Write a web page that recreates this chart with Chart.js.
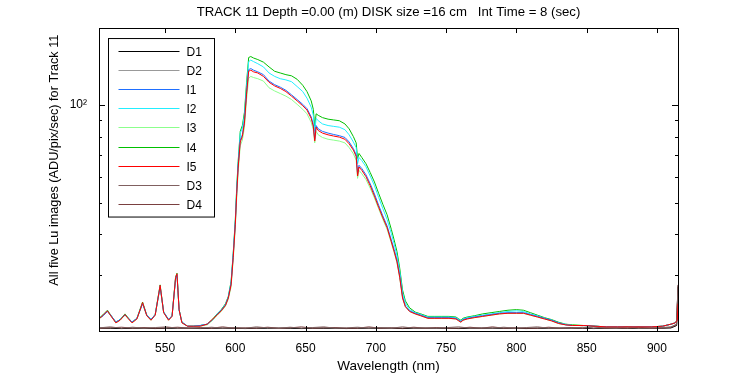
<!DOCTYPE html>
<html>
<head>
<meta charset="utf-8">
<script src="https://cdn.jsdelivr.net/npm/chart.js@4/dist/chart.umd.min.js"></script>
<style>
  html, body { margin: 0; padding: 0; background: #fff; }
  canvas { display: block; }
</style>
</head>
<body>
<canvas id="c" width="750" height="375"></canvas>
<script>
// wavelengths (nm) for the five Lu images
const wave = [503,506,509,512,515,518,521.5,524,526.5,530,
  534,537,540,543,546.5,549,552.5,555,557.5,558.5,
  560,562,566,570,575,580,584,587,590,593,
  595,597,598.5,600,601,602,603.5,605,606.5,608,
  609.5,611,613,616,620,624,628,632,636,640,
  644,648,651,654,655.5,656.5,657.5,659,662,666,
  670,674,678,681,684,686,687,688,690,693,
  696,699,702,705,708,711,713,715,717,719,
  721,724,728,732,737,742,747,752,757,759,
  760.5,762,765,770,776,782,788,794,800,805,
  810,815,820,825,830,835,840,848,856,864,
  872,880,888,896,904,910,913,914.5,915];

const i1 = [22.1,22.5,23.2,22.4,21.5,21.9,22.6,22.1,21.5,22.1,
  24.5,22.6,21.9,22.7,27.6,23.1,21.9,22.5,29.2,30.0,
  23.4,21.5,20.9,20.9,21.0,21.2,21.9,22.7,23.4,24.3,
  25.6,28.3,34.5,43.5,54.0,65.0,78.0,81.0,89.5,110.0,
  128.5,129.5,128.0,126.5,124.0,118.5,115.5,113.5,111.0,107.5,
  104.0,100.5,97.5,92.0,87.0,78.5,86.5,84.5,83.0,82.0,
  81.2,80.5,79.5,77.0,73.5,70.3,61.5,65.3,63.8,61.0,
  57.3,53.3,49.2,45.6,42.5,38.5,36.0,33.4,29.9,25.8,
  24.1,23.3,22.9,22.6,22.2,22.2,22.2,22.2,22.1,21.8,
  21.6,21.9,22.1,22.3,22.5,22.7,22.9,23.0,23.0,23.0,
  22.7,22.4,22.1,21.8,21.4,21.1,21.0,21.0,20.9,20.8,
  20.8,20.8,20.8,20.8,20.9,21.2,21.4,21.8,24.3];

const i2 = [22.1,22.6,23.3,22.4,21.5,21.9,22.7,22.1,21.5,22.1,
  24.6,22.6,21.9,22.7,27.8,23.1,21.9,22.5,29.4,30.2,
  23.5,21.5,20.9,20.9,21.0,21.2,21.9,22.7,23.4,24.4,
  25.7,28.5,34.8,44.0,55.0,66.0,82.0,85.0,93.0,114.0,
  136.0,137.5,136.0,134.0,131.0,125.5,122.5,120.5,119.5,118.0,
  114.0,110.0,105.0,98.5,93.0,83.0,91.0,89.5,87.5,86.5,
  86.0,85.5,84.0,81.0,77.0,74.0,66.0,69.0,67.5,64.6,
  60.5,56.5,52.0,48.0,44.5,40.3,37.5,34.5,30.8,26.5,
  24.6,23.5,23.0,22.7,22.3,22.3,22.3,22.3,22.2,21.9,
  21.7,22.0,22.2,22.4,22.6,22.8,23.0,23.2,23.3,23.2,
  22.8,22.5,22.1,21.8,21.4,21.2,21.0,21.0,20.9,20.8,
  20.8,20.8,20.8,20.8,20.9,21.2,21.4,21.8,24.4];

const i3 = [22.0,22.5,23.2,22.3,21.4,21.8,22.6,22.0,21.4,22.0,
  24.5,22.5,21.8,22.6,27.6,23.0,21.8,22.4,29.2,30.0,
  23.4,21.4,20.9,20.9,20.9,21.1,21.8,22.6,23.2,24.1,
  25.3,27.6,33.5,42.0,52.0,62.0,75.0,78.0,85.5,104.0,
  121.0,122.5,121.5,120.5,118.5,113.0,110.5,108.5,106.5,104.0,
  100.5,97.0,94.0,88.5,84.0,76.5,83.0,81.0,79.5,78.5,
  78.0,77.5,76.5,74.0,70.8,67.7,59.5,63.0,61.5,59.0,
  55.5,51.8,48.0,44.5,41.5,37.7,35.2,32.8,29.4,25.5,
  24.0,23.2,22.8,22.5,22.1,22.1,22.1,22.1,22.0,21.7,
  21.5,21.8,22.0,22.2,22.4,22.6,22.8,22.9,22.9,22.9,
  22.6,22.3,22.0,21.7,21.3,21.1,21.0,21.0,20.9,20.8,
  20.8,20.8,20.8,20.8,20.9,21.2,21.4,21.8,24.2];

const i4 = [22.1,22.7,23.4,22.4,21.5,21.9,22.8,22.1,21.5,22.1,
  24.8,22.6,21.9,22.7,28.0,23.1,21.9,22.5,29.6,30.4,
  23.5,21.5,20.9,20.9,21.0,21.2,22.0,22.8,23.5,24.5,
  25.8,28.7,35.0,44.5,56.0,67.0,83.0,86.5,95.0,117.0,
  140.0,141.0,139.5,138.0,135.5,131.0,127.0,125.5,124.0,123.0,
  120.0,115.0,110.0,103.0,97.0,86.0,94.0,93.0,91.5,90.5,
  90.0,89.5,87.5,84.5,80.0,76.5,68.5,71.0,69.0,66.0,
  62.0,58.0,53.5,49.5,46.0,41.5,38.5,35.5,31.5,27.0,
  25.0,23.8,23.1,22.8,22.4,22.4,22.4,22.4,22.3,22.0,
  21.8,22.1,22.3,22.5,22.8,23.0,23.2,23.4,23.5,23.4,
  23.0,22.6,22.2,21.9,21.5,21.2,21.1,21.0,20.9,20.8,
  20.8,20.8,20.8,20.8,20.9,21.2,21.4,21.9,24.5];

const i5 = [22.0,22.6,23.3,22.3,21.4,21.8,22.7,22.0,21.4,22.0,
  24.7,22.5,21.8,22.6,27.9,23.0,21.8,22.4,29.5,30.3,
  23.5,21.4,20.9,20.9,20.9,21.2,22.0,22.6,23.3,24.2,
  25.5,28.0,34.0,43.0,53.5,64.0,77.0,80.0,88.0,108.0,
  127.0,128.0,126.5,125.5,122.5,117.5,114.5,112.5,110.0,106.5,
  103.0,99.5,96.5,91.0,86.0,77.5,85.5,83.5,82.0,81.0,
  80.3,79.7,78.5,76.0,72.7,69.5,60.5,64.5,63.0,60.2,
  56.5,52.5,48.5,45.0,42.0,38.0,35.5,33.0,29.5,25.5,
  24.0,23.2,22.8,22.5,22.1,22.1,22.1,22.1,22.0,21.7,
  21.5,21.8,22.0,22.2,22.4,22.6,22.8,22.9,22.9,22.9,
  22.6,22.3,22.0,21.7,21.3,21.1,21.0,21.0,20.9,20.8,
  20.8,20.8,20.8,20.8,20.9,21.2,21.4,21.8,24.5];

// wavelengths (nm) for the four dark images
const dWave = [503,511,519,527,535,543,551,559,567,575,
  583,591,599,607,615,623,631,639,647,655,
  663,671,679,687,695,703,711,719,727,735,
  743,751,759,767,775,783,791,799,807,815,
  823,831,839,847,855,863,871,879,887,895,
  903,910,914,915];

const d1 = [20.6,20.6,20.55,20.6,20.6,20.55,20.6,20.6,20.6,20.55,
  20.6,20.6,20.6,20.55,20.6,20.6,20.6,20.6,20.55,20.6,
  20.6,20.6,20.55,20.6,20.6,20.6,20.6,20.55,20.6,20.6,
  20.6,20.6,20.55,20.6,20.6,20.6,20.6,20.6,20.55,20.6,
  20.6,20.6,20.6,20.6,20.55,20.6,20.6,20.6,20.6,20.6,
  20.6,20.65,21.0,27.6];

const d2 = [20.62,20.6,20.6,20.62,20.6,20.6,20.62,20.6,20.6,20.6,
  20.62,20.6,20.6,20.6,20.62,20.6,20.6,20.62,20.6,20.6,
  20.6,20.62,20.6,20.6,20.6,20.62,20.6,20.6,20.62,20.6,
  20.6,20.6,20.62,20.6,20.6,20.62,20.6,20.6,20.6,20.62,
  20.6,20.6,20.62,20.6,20.6,20.6,20.62,20.6,20.6,20.6,
  20.62,20.65,21.0,27.7];

const d3 = [20.65,20.8,20.6,20.75,20.6,20.7,20.8,20.6,20.65,20.6,
  20.75,20.6,20.7,20.6,20.8,20.65,20.6,20.75,20.6,20.7,
  20.8,20.6,20.65,20.75,20.6,20.7,20.6,20.8,20.6,20.65,
  20.6,20.7,20.8,20.6,20.65,20.6,20.75,20.6,20.7,20.8,
  20.6,20.65,20.6,20.75,20.6,20.7,20.6,20.8,20.6,20.65,
  20.7,20.8,21.2,27.9];

const d4 = [20.6,20.65,20.75,20.6,20.7,20.6,20.65,20.75,20.6,20.7,
  20.6,20.8,20.6,20.65,20.6,20.75,20.6,20.65,20.8,20.6,
  20.65,20.7,20.6,20.6,20.8,20.6,20.65,20.6,20.75,20.6,
  20.7,20.6,20.6,20.75,20.6,20.8,20.6,20.65,20.6,20.6,
  20.75,20.6,20.7,20.6,20.8,20.6,20.65,20.6,20.75,20.6,
  20.6,20.75,21.1,28.0];

const seriesNames = ['D1', 'D2', 'I1', 'I2', 'I3', 'I4', 'I5', 'D3', 'D4'];
const seriesColors = ['#000000', '#999999', '#1f6fff', '#22eeff', '#8cff8c', '#00c000', '#ff0000', '#806060', '#7a4040'];
const seriesOrder = [7, 7, 3, 5, 4, 6, 1, 2, 2];
const xTicks = [550, 600, 650, 700, 750, 800, 850, 900];
const yTicks = [30, 40, 50, 60, 70, 80, 90, 100];

const FONT = "'Liberation Sans', Arial, sans-serif";

function pts(xs, ys) {
  return xs.map((x, i) => ({ x: x, y: ys[i] }));
}

const seriesData = [pts(dWave, d1), pts(dWave, d2), pts(wave, i1), pts(wave, i2),
  pts(wave, i3), pts(wave, i4), pts(wave, i5), pts(dWave, d3), pts(dWave, d4)];

// box, inward ticks and legend drawn like the original figure
const figureBits = {
  id: 'figureBits',
  afterDatasetsDraw(chart) {
    const { ctx, chartArea: a, scales } = chart;
    ctx.save();
    ctx.strokeStyle = '#000';
    ctx.lineWidth = 1;
    ctx.beginPath();
    xTicks.forEach(v => {
      const px = Math.round(scales.x.getPixelForValue(v)) + 0.5;
      ctx.moveTo(px, a.bottom); ctx.lineTo(px, a.bottom - 5);
      ctx.moveTo(px, a.top); ctx.lineTo(px, a.top + 5);
    });
    yTicks.forEach(v => {
      const py = Math.round(scales.y.getPixelForValue(v)) + 0.5;
      const len = v === 100 ? 6 : 3;
      ctx.moveTo(a.left, py); ctx.lineTo(a.left + len, py);
      ctx.moveTo(a.right, py); ctx.lineTo(a.right - len, py);
    });
    ctx.stroke();
    ctx.strokeRect(Math.round(a.left) + 0.5, Math.round(a.top) + 0.5,
      Math.round(a.right - a.left), Math.round(a.bottom - a.top));
    ctx.restore();
  },
  afterDraw(chart) {
    const ctx = chart.ctx;
    const a = chart.chartArea;
    const bx = a.left + 9.5, by = a.top + 10.5, bw = 106, bh = 178.5;
    ctx.save();
    ctx.fillStyle = '#fff';
    ctx.fillRect(bx, by, bw, bh);
    ctx.strokeStyle = '#000';
    ctx.lineWidth = 1;
    ctx.strokeRect(bx, by, bw, bh);
    ctx.font = '12px ' + FONT;
    ctx.textBaseline = 'middle';
    ctx.textAlign = 'left';
    chart.data.datasets.forEach((ds, i) => {
      const y = Math.round(by + 12.5 + i * 19.1) + 0.5;
      ctx.strokeStyle = ds.borderColor;
      ctx.beginPath();
      ctx.moveTo(bx + 10, y);
      ctx.lineTo(bx + 71, y);
      ctx.stroke();
      ctx.fillStyle = '#000';
      ctx.fillText(ds.label, bx + 78, y + 1);
    });
    ctx.restore();
  }
};

Chart.defaults.font.family = FONT;
Chart.defaults.font.size = 12;
Chart.defaults.color = '#000';

new Chart(document.getElementById('c'), {
  type: 'line',
  data: {
    datasets: seriesNames.map((name, i) => ({
      label: name,
      data: seriesData[i],
      borderColor: seriesColors[i],
      backgroundColor: seriesColors[i],
      borderWidth: 1,
      pointRadius: 0,
      tension: 0,
      fill: false,
      order: seriesOrder[i]
    }))
  },
  options: {
    responsive: false,
    animation: false,
    devicePixelRatio: 1,
    layout: { padding: { left: 0, right: 72, top: 0, bottom: 0 } },
    plugins: {
      legend: { display: false },
      tooltip: { enabled: false },
      title: {
        display: true,
        fullSize: false,
        text: 'TRACK 11 Depth =0.00 (m) DISK size =16 cm   Int Time = 8 (sec)',
        font: { size: 13.2, weight: 'normal', lineHeight: 1.2 },
        color: '#000',
        padding: { top: 4, bottom: 8.2 }
      }
    },
    scales: {
      x: {
        type: 'linear',
        min: 503,
        max: 915,
        afterBuildTicks: s => { s.ticks = xTicks.map(v => ({ value: v })); },
        afterFit: s => { s.height = 44; },
        grid: { display: false, drawTicks: false },
        border: { display: false },
        ticks: { autoSkip: false, maxRotation: 0, padding: 10, font: { size: 12 } },
        title: { display: true, text: 'Wavelength (nm)', font: { size: 13.5 }, padding: { top: 0, bottom: 1 } }
      },
      y: {
        type: 'logarithmic',
        min: 20.2,
        max: 172.5,
        afterBuildTicks: s => { s.ticks = yTicks.map(v => ({ value: v })); },
        afterFit: s => { s.width = 99; },
        grid: { display: false, drawTicks: false },
        border: { display: false },
        ticks: {
          autoSkip: false,
          padding: 12,
          font: { size: 12 },
          callback: v => (v === 100 ? '10\u00B2' : '')
        },
        title: {
          display: true,
          text: '           All five Lu images (ADU/pix/sec) for Track 11',
          font: { size: 12.7 },
          padding: { top: 47, bottom: 0 }
        }
      }
    }
  },
  plugins: [figureBits]
});
</script>
</body>
</html>
